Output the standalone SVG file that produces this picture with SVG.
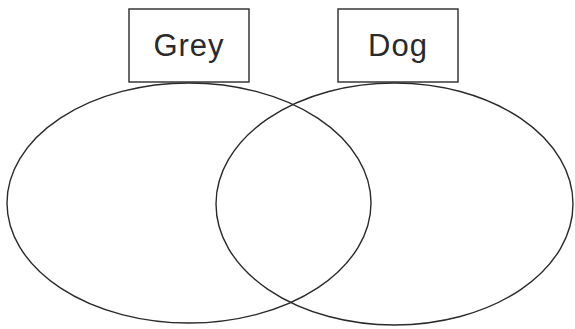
<svg xmlns="http://www.w3.org/2000/svg" width="575" height="329" viewBox="0 0 575 329">
<style>
.s{fill:none;stroke:#2a2a2a;stroke-width:1.4}
.b{fill:#fff;stroke:#2a2a2a;stroke-width:1.4}
.t{font-family:"Liberation Sans",Arial,sans-serif;font-size:31px;letter-spacing:1px;fill:#2a2a2a;text-anchor:middle}
</style>
<rect width="575" height="329" fill="#fff"/>
<g id="grey-set"><ellipse class="s" cx="189" cy="203" rx="182" ry="120"/></g>
<g id="dog-set"><ellipse class="s" cx="394.5" cy="204" rx="178.5" ry="121"/></g>
<g id="grey-label"><rect class="b" x="129" y="9" width="120" height="73"/><text class="t" x="189" y="56">Grey</text></g>
<g id="dog-label"><rect class="b" x="338" y="9" width="120" height="73"/><text class="t" x="398" y="56">Dog</text></g>
<g id="connectors"></g>
</svg>
